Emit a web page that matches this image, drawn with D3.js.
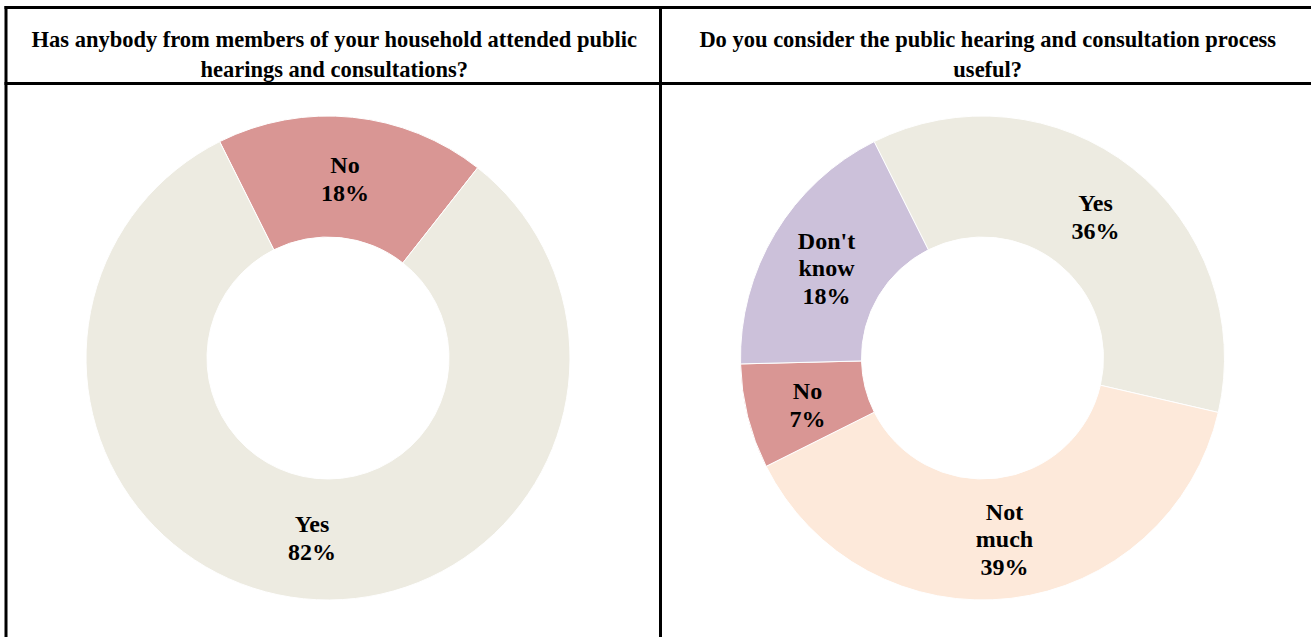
<!DOCTYPE html>
<html>
<head>
<meta charset="utf-8">
<script src="https://cdn.jsdelivr.net/npm/d3@7"></script>
<style>
  html, body { margin: 0; padding: 0; background: #fff; }
  svg { display: block; }
  text { font-family: "Liberation Serif", "Times New Roman", serif; font-weight: bold; fill: #000; }
</style>
</head>
<body>
<svg id="chart" width="1315" height="637"></svg>
<script>
// Survey answers for the two questions
const titles1 = ["Has anybody from members of your household attended public", "hearings and consultations?"];
const categories1 = ["No", "Yes"];
const values1 = [18, 82];

const titles2 = ["Do you consider the public hearing and consultation process", "useful?"];
const categories2 = ["Yes", "Not much", "No", "Don't know"];
const values2 = [36, 39, 7, 18];

const colors = {
  "Yes": "#EDEBE1",
  "No": "#D99694",
  "Not much": "#FDE9DA",
  "Don't know": "#CCC1DA"
};

const svg = d3.select("#chart");

// Table frame
const frameL = 6, frameM = 660.5, frameR = 1311, frameT = 7.5, headB = 83.5, frameB = 637;
const frame = svg.append("g").attr("stroke", "#000").attr("stroke-width", 3);
frame.append("line").attr("x1", frameL - 1.5).attr("x2", frameR).attr("y1", frameT).attr("y2", frameT);
frame.append("line").attr("x1", frameL - 1.5).attr("x2", frameR).attr("y1", headB).attr("y2", headB);
frame.append("line").attr("x1", frameL).attr("x2", frameL).attr("y1", frameT - 1.5).attr("y2", frameB);
frame.append("line").attr("x1", frameM).attr("x2", frameM).attr("y1", frameT - 1.5).attr("y2", frameB);

// Header titles
function header(lines, cx) {
  const t = svg.append("text")
    .attr("x", cx).attr("y", 47)
    .attr("text-anchor", "middle")
    .style("font-size", "22.5px");
  lines.forEach((l, i) => {
    t.append("tspan").attr("x", cx).attr("dy", i === 0 ? 0 : 29.5).text(l);
  });
}
header(titles1, (frameL + frameM) / 2 + 1);
header(titles2, (frameM + frameR) / 2 + 2);

// Donut drawing
const outerR = 242, innerR = 121;
const startDeg = -26.6;

function donut(cats, vals, cx, cy, labelPos) {
  const data = cats.map((c, i) => ({ cat: c, value: vals[i] }));
  const pie = d3.pie().value(d => d.value).sort(null)
    .startAngle(startDeg * Math.PI / 180)
    .endAngle((startDeg + 360) * Math.PI / 180);
  const arc = d3.arc().innerRadius(innerR).outerRadius(outerR);
  const g = svg.append("g").attr("transform", `translate(${cx},${cy})`);
  const arcs = pie(data);
  g.selectAll("path").data(arcs).join("path")
    .attr("d", arc)
    .attr("fill", d => colors[d.data.cat])
    .attr("stroke", "#fff")
    .attr("stroke-width", 1);

  // Labels: category name (possibly wrapped) and percentage
  arcs.forEach(a => {
    const lines = labelPos[a.data.cat].lines.concat([a.data.value + "%"]);
    const [lx, ly] = labelPos[a.data.cat].at;
    const t = g.append("text")
      .attr("text-anchor", "middle")
      .style("font-size", "24px");
    const lh = 27.5;
    const y0 = ly - (lines.length - 1) * lh / 2;
    lines.forEach((l, i) => {
      t.append("tspan").attr("x", lx).attr("y", y0 + i * lh + 8).text(l);
    });
  });
}

donut(categories1, values1, 328, 358, {
  "No": { lines: ["No"], at: [17, -179] },
  "Yes": { lines: ["Yes"], at: [-16, 180] }
});

donut(categories2, values2, 982.5, 358, {
  "Yes": { lines: ["Yes"], at: [113, -141] },
  "Not much": { lines: ["Not", "much"], at: [22, 181] },
  "No": { lines: ["No"], at: [-175, 47] },
  "Don't know": { lines: ["Don't", "know"], at: [-156, -90] }
});
</script>
</body>
</html>
